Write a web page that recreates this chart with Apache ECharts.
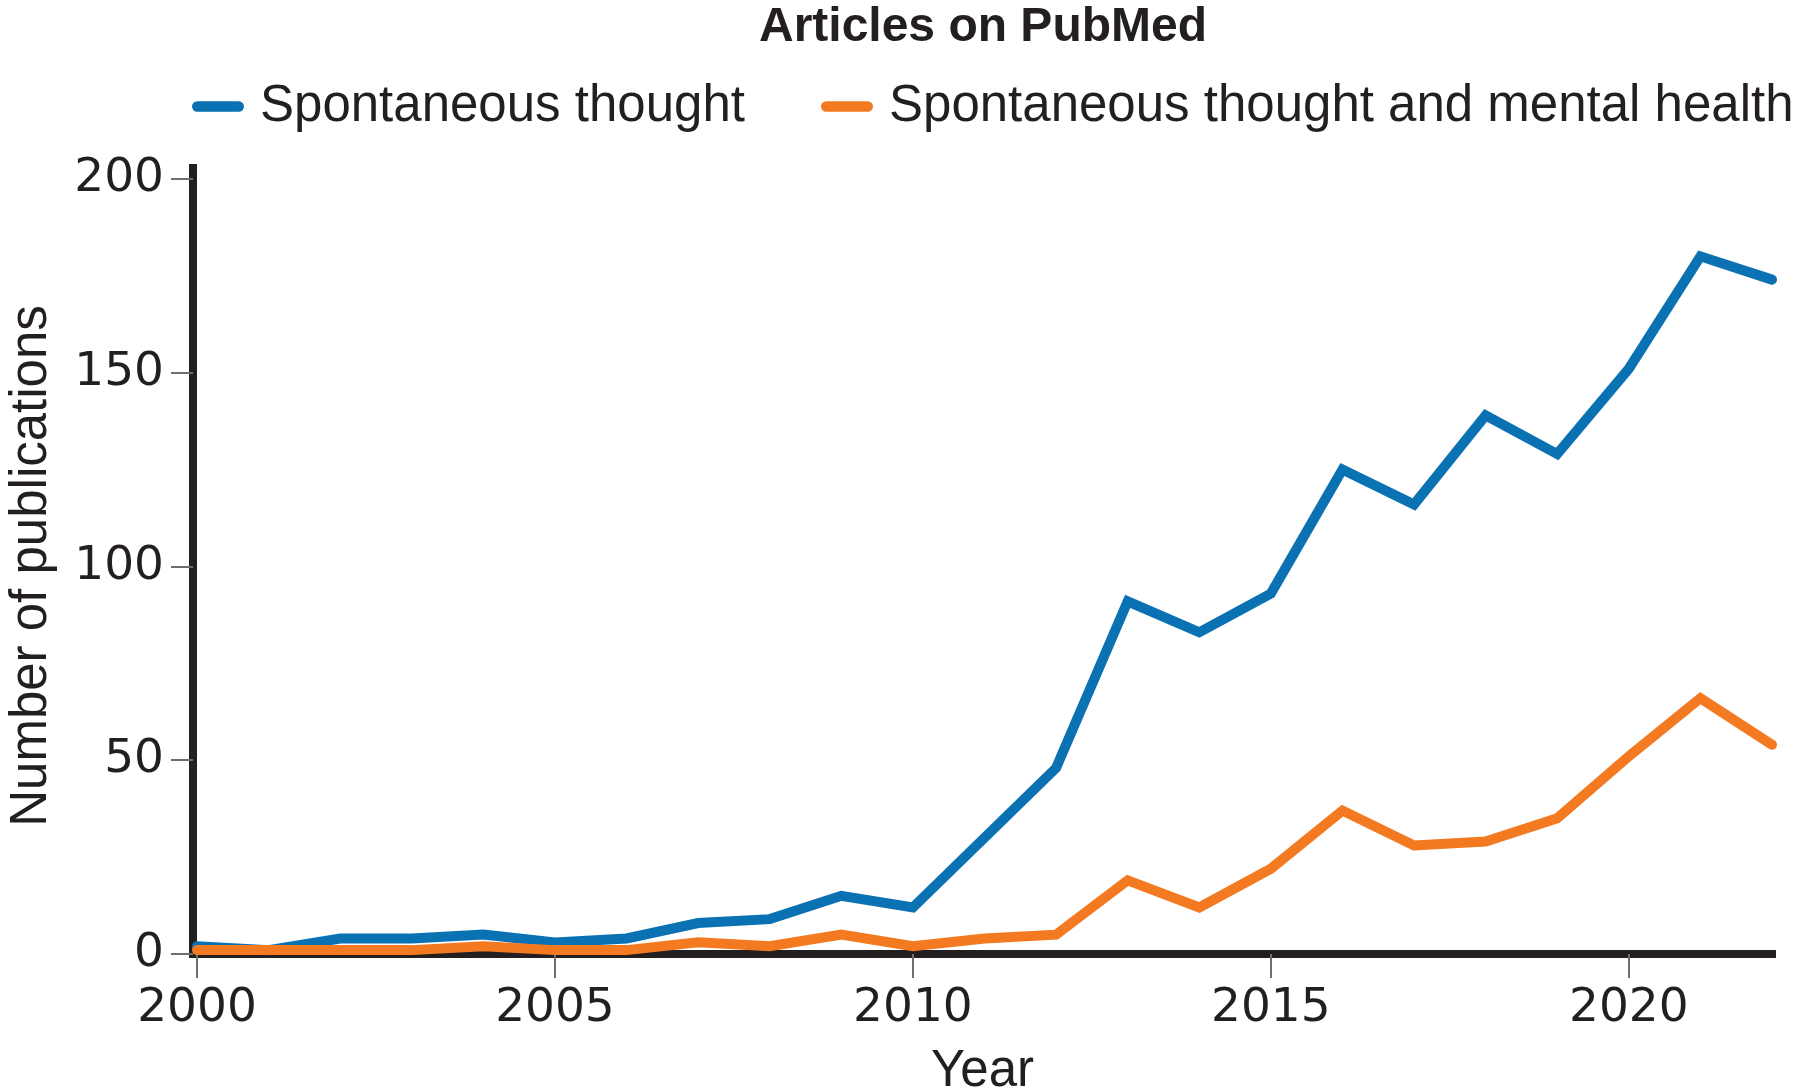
<!DOCTYPE html>
<html>
<head>
<meta charset="utf-8">
<script src="https://cdn.jsdelivr.net/npm/echarts@6/dist/echarts.min.js"></script>
<style>
  html, body { margin: 0; padding: 0; background: #ffffff; }
  #chart { width: 1800px; height: 1088px; }
</style>
</head>
<body>
<div id="chart"></div>
<script>
const years = [2000, 2001, 2002, 2003, 2004, 2005, 2006, 2007, 2008, 2009, 2010,
               2011, 2012, 2013, 2014, 2015, 2016, 2017, 2018, 2019, 2020, 2021, 2022];
const spontaneousThought = [2, 1, 4, 4, 5, 3, 4, 8, 9, 15, 12,
                            30, 48, 91, 83, 93, 125, 116, 139, 129, 151, 180, 174];
const mentalHealth = [1, 1, 1, 1, 2, 1, 1, 3, 2, 5, 2,
                      4, 5, 19, 12, 22, 37, 28, 29, 35, 51, 66, 54];
const xTicks = [2000, 2005, 2010, 2015, 2020];
const yTicks = [0, 50, 100, 150, 200];
const seriesNames = ['Spontaneous thought', 'Spontaneous thought and mental health'];

const BLUE = '#0a71b3';
const ORANGE = '#f37a21';
const AXIS = '#231f20';
const TEXT_FONT = '"Liberation Sans", Arial, sans-serif';
const NUM_FONT = '"DejaVu Sans", sans-serif';
const legendIcon = 'path://M5,0 H45 A5,5 0 0 1 45,10 H5 A5,5 0 0 1 5,0 Z';

const chart = echarts.init(document.getElementById('chart'), null, { renderer: 'canvas' });

const legendCommon = {
  top: 81,
  orient: 'horizontal',
  padding: 0,
  itemWidth: 52,
  itemHeight: 11,
  icon: legendIcon,
  selectedMode: false,
  textStyle: {
    fontFamily: TEXT_FONT,
    fontSize: 51,
    color: '#231f20',
    padding: [0, 0, 0, 11]
  }
};

chart.setOption({
  animation: false,
  backgroundColor: '#ffffff',
  title: {
    text: 'Articles on PubMed',
    left: 983,
    textAlign: 'center',
    top: 4,
    padding: 0,
    textStyle: {
      fontFamily: TEXT_FONT,
      fontWeight: 'bold',
      fontSize: 48,
      color: '#231f20'
    }
  },
  legend: [
    Object.assign({}, legendCommon, { left: 192, data: [seriesNames[0]] }),
    Object.assign({}, legendCommon, { left: 821, data: [seriesNames[1]] })
  ],
  grid: {
    left: 193,
    right: 28,
    top: 168,
    bottom: 134,
    containLabel: false,
    outerBoundsMode: 'none'
  },
  xAxis: {
    type: 'value',
    min: 1999.944,
    max: 2022,
    interval: 5,
    name: 'Year',
    nameLocation: 'middle',
    nameGap: 92,
    nameTextStyle: {
      fontFamily: TEXT_FONT,
      fontSize: 51,
      color: '#231f20'
    },
    axisLine: {
      show: true,
      onZero: false,
      lineStyle: { color: AXIS, width: 8, cap: 'square' }
    },
    axisTick: {
      show: true,
      customValues: xTicks,
      length: 24,
      lineStyle: { color: '#6d6e71', width: 2 }
    },
    axisLabel: {
      customValues: xTicks,
      margin: 31,
      fontFamily: NUM_FONT,
      fontSize: 47,
      color: '#231f20',
      formatter: v => String(v)
    },
    splitLine: { show: false }
  },
  yAxis: {
    type: 'value',
    min: 0,
    max: 202.8,
    interval: 50,
    name: 'Number of publications',
    nameLocation: 'middle',
    nameRotate: 90,
    nameGap: 136,
    nameTextStyle: {
      fontFamily: TEXT_FONT,
      fontSize: 51,
      color: '#231f20',
      padding: [0, 10, 0, 0]
    },
    axisLine: {
      show: true,
      lineStyle: { color: AXIS, width: 8, cap: 'square' }
    },
    axisTick: {
      show: true,
      customValues: yTicks,
      length: 22,
      lineStyle: { color: '#6d6e71', width: 2 }
    },
    axisLabel: {
      customValues: yTicks,
      margin: 29,
      fontFamily: NUM_FONT,
      fontSize: 47,
      color: '#231f20'
    },
    splitLine: { show: false }
  },
  series: [
    {
      name: seriesNames[0],
      type: 'line',
      data: years.map((y, i) => [y, spontaneousThought[i]]),
      showSymbol: false,
      symbol: 'none',
      color: BLUE,
      lineStyle: { color: BLUE, width: 10, cap: 'round', join: 'miter' },
      z: 3
    },
    {
      name: seriesNames[1],
      type: 'line',
      data: years.map((y, i) => [y, mentalHealth[i]]),
      showSymbol: false,
      symbol: 'none',
      color: ORANGE,
      lineStyle: { color: ORANGE, width: 10, cap: 'round', join: 'miter' },
      z: 4
    }
  ]
});
</script>
</body>
</html>
